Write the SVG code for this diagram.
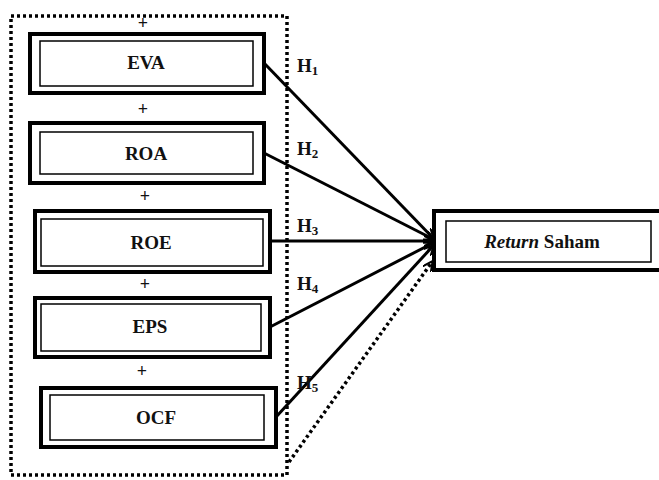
<svg xmlns="http://www.w3.org/2000/svg" width="659" height="480" viewBox="0 0 659 480">
<style>
.outer{fill:#fff;stroke:#000;stroke-width:4}
.inner{fill:#fff;stroke:#000;stroke-width:1.5}
.lbl{font-family:"Liberation Serif","Times New Roman",serif;font-weight:bold;font-size:19px;text-anchor:middle;fill:#111}
.plus{font-family:"Liberation Serif",serif;font-weight:bold;font-size:18px;text-anchor:middle;fill:#111}
.h{font-family:"Liberation Serif",serif;font-weight:bold;font-size:19px;fill:#111}
.sub{font-size:13px}
.conn{stroke:#000;stroke-width:3;fill:none;marker-end:url(#ah)}
.dot{stroke:#000;stroke-width:3.5;fill:none;stroke-dasharray:3 3}
</style>
<defs>
<marker id="ah" markerWidth="10" markerHeight="10" refX="9" refY="5" orient="auto" markerUnits="userSpaceOnUse">
<path d="M0,0 L10,5 L0,10" fill="none" stroke="#000" stroke-width="2"/>
</marker>
</defs>
<rect x="11" y="16" width="276" height="459" class="dot"/>
<g id="plus">
<text x="143" y="29" class="plus">+</text>
<text x="143" y="115" class="plus">+</text>
<text x="145" y="202" class="plus">+</text>
<text x="145" y="290" class="plus">+</text>
<text x="142" y="377" class="plus">+</text>
</g>
<g id="eva"><rect x="30" y="34" width="234" height="59" class="outer"/><rect x="40" y="41" width="213" height="45" class="inner"/><text x="146" y="69" class="lbl">EVA</text></g>
<g id="roa"><rect x="30" y="123" width="234" height="60" class="outer"/><rect x="40" y="132" width="213" height="42" class="inner"/><text x="146" y="160" class="lbl">ROA</text></g>
<g id="roe"><rect x="35" y="211" width="235" height="61" class="outer"/><rect x="41" y="219" width="222" height="47" class="inner"/><text x="151" y="249" class="lbl">ROE</text></g>
<g id="eps"><rect x="35" y="298" width="235" height="59" class="outer"/><rect x="41" y="304" width="220" height="47" class="inner"/><text x="150" y="333" class="lbl">EPS</text></g>
<g id="ocf"><rect x="41" y="388" width="235" height="59" class="outer"/><rect x="50" y="395" width="214" height="45" class="inner"/><text x="156" y="424" class="lbl">OCF</text></g>
<g id="return"><rect x="434" y="211" width="229" height="59" class="outer"/><rect x="446" y="221" width="205" height="41" class="inner"/><text x="542" y="248" class="lbl"><tspan font-family="Liberation Serif" font-style="italic">Return</tspan><tspan font-family="Liberation Serif"> Saham</tspan></text></g>
<g id="connectors">
<line x1="264" y1="63" x2="433" y2="238" class="conn"/>
<line x1="264" y1="153" x2="433" y2="239" class="conn"/>
<line x1="270" y1="241" x2="433" y2="241" class="conn"/>
<line x1="270" y1="327" x2="433" y2="243" class="conn"/>
<line x1="276" y1="417" x2="433" y2="246" class="conn"/>
<line x1="289" y1="462" x2="432" y2="262" class="dot" marker-end="url(#ah)"/>
</g>
<g id="hlabels">
<text x="297" y="72" class="h">H<tspan class="sub" dy="3">1</tspan></text>
<text x="297" y="155" class="h">H<tspan class="sub" dy="3">2</tspan></text>
<text x="297" y="232" class="h">H<tspan class="sub" dy="3">3</tspan></text>
<text x="297" y="290" class="h">H<tspan class="sub" dy="3">4</tspan></text>
<text x="297" y="389" class="h">H<tspan class="sub" dy="3">5</tspan></text>
</g>
</svg>
